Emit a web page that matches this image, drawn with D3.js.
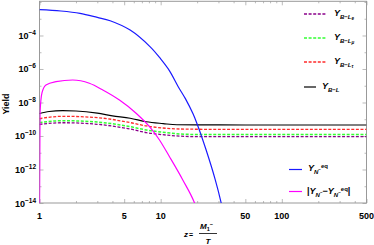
<!DOCTYPE html>
<html>
<head>
<meta charset="utf-8">
<script src="https://cdn.jsdelivr.net/npm/d3@7"></script>
<style>
  body { margin: 0; background: #fff; }
  svg { display: block; font-family: "Liberation Sans", Arial, sans-serif; }
</style>
</head>
<body>
<div id="chart"></div>
<script>
// [z, yield] pairs
const yEq = [[1, 3.5e-3], [1.5, 2.9e-3], [2.16, 2.1e-3], [3, 1.2e-3], [3.83, 7.6e-4], [5.6, 2.1e-4],
  [8.2, 2.1e-5], [10, 4e-6], [11.8, 8e-7], [14, 8.5e-8], [16, 1.7e-8], [18.5, 2.1e-9], [20, 5.2e-10],
  [23.7, 1.5e-11], [28.2, 2.5e-13], [31.4, 1.2e-14], [33, 2e-15]];
const yDiff = [[1, 1e-15], [1.01, 2.3e-9], [1.048, 3.7e-8], [1.13, 1.1e-7], [1.37, 1.75e-7],
  [1.88, 2.2e-7], [2.58, 1.4e-7], [3.33, 5.6e-8], [4.57, 1.4e-8], [6.27, 2.3e-9], [8.09, 3.6e-10],
  [9.78, 5.8e-11], [11.83, 5.8e-12], [15.27, 2.3e-13], [19.05, 1e-14], [20, 4e-15]];
const yBL = [[1, 2.2e-9], [1.2, 2.9e-9], [1.55, 3.25e-9], [2, 3.1e-9], [3, 2.3e-9], [4, 1.6e-9],
  [5.6, 1.15e-9], [7.6, 7.1e-10], [10.5, 5.5e-10], [13.6, 4.7e-10], [20, 4.6e-10], [50, 4.55e-10], [500, 4.55e-10]];
const yBLtau = [[1, 1.1e-9], [1.55, 1.5e-9], [3, 1.25e-9], [5.6, 6.3e-10], [7.6, 4e-10], [11, 2.9e-10],
  [17.5, 2.55e-10], [30, 2.5e-10], [500, 2.5e-10]];
const yBLmu = [[1, 6.3e-10], [1.55, 8.2e-10], [3, 6.8e-10], [5.6, 3.6e-10], [7.6, 2.3e-10], [11, 1.6e-10],
  [17.5, 1.25e-10], [30, 1.23e-10], [500, 1.23e-10]];
const yBLe = [[1, 5e-10], [1.55, 6.2e-10], [3, 5e-10], [5.6, 2.6e-10], [7.6, 1.6e-10], [11, 1.15e-10],
  [17.5, 9.3e-11], [30, 9.1e-11], [500, 9.1e-11]];

const xMajor = [1, 5, 10, 50, 100, 500];
const xMinor = [2, 3, 4, 6, 7, 8, 9, 20, 30, 40, 60, 70, 80, 90, 200, 300, 400];
const yMajor = [-4, -6, -8, -10, -12, -14];
const yMinor = [-2, -3, -5, -7, -9, -11, -13];

const width = 374, height = 245;
const plot = { left: 39.5, right: 366.5, top: 1.3, bottom: 203 };

const x = d3.scaleLog().domain([1, 500]).range([plot.left, plot.right]);
const y = d3.scaleLog().domain([1e-14, 1.1e-2]).range([plot.bottom, plot.top]);

const svg = d3.select("#chart").append("svg")
  .attr("width", width)
  .attr("height", height);

svg.append("clipPath").attr("id", "clip")
  .append("rect")
  .attr("x", plot.left).attr("y", plot.top)
  .attr("width", plot.right - plot.left).attr("height", plot.bottom - plot.top);

// ticks (inward, on all four sides)
function tickAxis(axis, tr, vals, size) {
  const g = svg.append("g").attr("transform", tr)
    .call(axis.tickValues(vals).tickSize(size).tickFormat(""));
  g.select(".domain").remove();
  g.selectAll("line").attr("stroke", "#aaa").attr("stroke-width", 0.8);
}
const yMaj = yMajor.map(p => Math.pow(10, p));
const yMin = yMinor.map(p => Math.pow(10, p));
tickAxis(d3.axisBottom(x), `translate(0,${plot.bottom})`, xMajor, -4);
tickAxis(d3.axisBottom(x), `translate(0,${plot.bottom})`, xMinor, -2);
tickAxis(d3.axisTop(x), `translate(0,${plot.top})`, xMajor, -4);
tickAxis(d3.axisTop(x), `translate(0,${plot.top})`, xMinor, -2);
tickAxis(d3.axisLeft(y), `translate(${plot.left},0)`, yMaj, -4);
tickAxis(d3.axisLeft(y), `translate(${plot.left},0)`, yMin, -2);
tickAxis(d3.axisRight(y), `translate(${plot.right},0)`, yMaj, -4);
tickAxis(d3.axisRight(y), `translate(${plot.right},0)`, yMin, -2);

svg.append("rect")
  .attr("x", plot.left).attr("y", plot.top)
  .attr("width", plot.right - plot.left).attr("height", plot.bottom - plot.top)
  .attr("fill", "none").attr("stroke", "#999").attr("stroke-width", 1);

// tick labels
svg.append("g").selectAll("text")
  .data(xMajor)
  .join("text")
  .attr("x", d => x(d))
  .attr("y", 219)
  .attr("text-anchor", "middle")
  .attr("font-size", 9)
  .attr("font-weight", "bold")
  .text(d => d);

const yl = svg.append("g").selectAll("text")
  .data(yMajor)
  .join("text")
  .attr("x", 36)
  .attr("y", d => y(Math.pow(10, d)) + 3.5)
  .attr("text-anchor", "end")
  .attr("font-size", 9)
  .attr("font-weight", "bold");
yl.append("tspan").text("10");
yl.append("tspan").attr("dy", -4).attr("font-size", 6.5).text(d => "\u2212" + (-d));

svg.append("text")
  .attr("transform", "translate(9,104) rotate(-90)")
  .attr("text-anchor", "middle")
  .attr("font-size", 9)
  .attr("font-weight", "bold")
  .text("Yield");

// x label z = M1- / T
const xl = svg.append("g").attr("font-weight", "bold").attr("font-size", 8);
xl.append("text").attr("x", 184).attr("y", 236.5).attr("font-style", "italic").text("z");
xl.append("text").attr("x", 189).attr("y", 236.5).attr("font-size", 7).text("=");
const num = xl.append("text").attr("x", 200).attr("y", 229).attr("font-style", "italic");
num.append("tspan").text("M");
num.append("tspan").attr("dy", 2).attr("font-size", 5.5).attr("font-style", "normal").text("1");
num.append("tspan").attr("dy", -5).attr("font-size", 5.5).attr("font-style", "normal").text("\u2212");
xl.append("line").attr("x1", 199).attr("x2", 217).attr("y1", 233.5).attr("y2", 233.5)
  .attr("stroke", "#000").attr("stroke-width", 0.8);
xl.append("text").attr("x", 208).attr("y", 243.5).attr("text-anchor", "middle")
  .attr("font-style", "italic").text("T");

// curves
const line = d3.line()
  .x(d => x(d[0]))
  .y(d => y(d[1]))
  .curve(d3.curveMonotoneX);
const smooth = d3.line()
  .x(d => x(d[0]))
  .y(d => y(d[1]))
  .curve(d3.curveCatmullRom.alpha(0.5));

const series = [
  { data: yBLe, color: "#8b008b", dash: "3,1.6", w: 1.3, gen: line },
  { data: yBLmu, color: "#33ff33", dash: "3,1.6", w: 1.5, gen: line },
  { data: yBLtau, color: "#ff2a2a", dash: "3,1.6", w: 1.3, gen: line },
  { data: yBL, color: "#000", dash: null, w: 1.2, gen: line },
  { data: yEq, color: "#1a1aff", dash: null, w: 1.2, gen: smooth },
  { data: yDiff, color: "#ff00ff", dash: null, w: 1.2, gen: line }
];

svg.append("g").attr("clip-path", "url(#clip)")
  .selectAll("path")
  .data(series)
  .join("path")
  .attr("d", d => d.gen(d.data))
  .attr("fill", "none")
  .attr("stroke", d => d.color)
  .attr("stroke-width", d => d.w)
  .attr("stroke-dasharray", d => d.dash);

// legends
function yLabel(g, xx, yy, sub, subsub) {
  const t = g.append("text").attr("x", xx).attr("y", yy)
    .attr("font-size", 9).attr("font-weight", "bold").attr("font-style", "italic");
  t.append("tspan").text("Y");
  t.append("tspan").attr("dy", 2.5).attr("font-size", 6).text(sub);
  if (subsub) t.append("tspan").attr("dy", 1.5).attr("font-size", 4.5).text(subsub);
  return t;
}
const lg = svg.append("g");
const topLegend = [
  { color: "#8b008b", dash: "3,1.6", sub: "B\u2212L", subsub: "e", yy: 14 },
  { color: "#33ff33", dash: "3,1.6", sub: "B\u2212L", subsub: "\u03bc", yy: 38 },
  { color: "#ff2a2a", dash: "3,1.6", sub: "B\u2212L", subsub: "\u03c4", yy: 62 }
];
topLegend.forEach(d => {
  lg.append("line").attr("x1", 304).attr("x2", 327).attr("y1", d.yy).attr("y2", d.yy)
    .attr("stroke", d.color).attr("stroke-width", 1.3).attr("stroke-dasharray", d.dash);
  yLabel(lg, 334, d.yy + 2, d.sub, d.subsub);
});
lg.append("line").attr("x1", 304).attr("x2", 316).attr("y1", 87).attr("y2", 87)
  .attr("stroke", "#000").attr("stroke-width", 1.2);
yLabel(lg, 322, 89, "B\u2212L");

lg.append("line").attr("x1", 289).attr("x2", 302).attr("y1", 169.5).attr("y2", 169.5)
  .attr("stroke", "#1a1aff").attr("stroke-width", 1.2);
const eq = yLabel(lg, 308, 171, "N");
eq.append("tspan").attr("dy", -3).attr("font-size", 4.5).attr("font-style", "normal").text("\u2212");
eq.append("tspan").attr("dy", -3).attr("font-size", 6).attr("font-style", "normal").text("eq");

lg.append("line").attr("x1", 289).attr("x2", 302).attr("y1", 191.5).attr("y2", 191.5)
  .attr("stroke", "#ff00ff").attr("stroke-width", 1.2);
const df = lg.append("text").attr("x", 307).attr("y", 194)
  .attr("font-size", 9).attr("font-weight", "bold").attr("font-style", "italic");
df.append("tspan").attr("font-style", "normal").text("|");
df.append("tspan").text("Y");
df.append("tspan").attr("dy", 2.5).attr("font-size", 6).text("N");
df.append("tspan").attr("dy", -3).attr("font-size", 4.5).attr("font-style", "normal").text("\u2212");
df.append("tspan").attr("dy", 0.5).attr("font-style", "normal").text("\u2212");
df.append("tspan").text("Y");
df.append("tspan").attr("dy", 2.5).attr("font-size", 6).text("N");
df.append("tspan").attr("dy", -3).attr("font-size", 4.5).attr("font-style", "normal").text("\u2212");
df.append("tspan").attr("dy", -3).attr("font-size", 6).attr("font-style", "normal").text("eq");
df.append("tspan").attr("dy", 3.5).attr("font-style", "normal").text("|");
</script>
</body>
</html>
